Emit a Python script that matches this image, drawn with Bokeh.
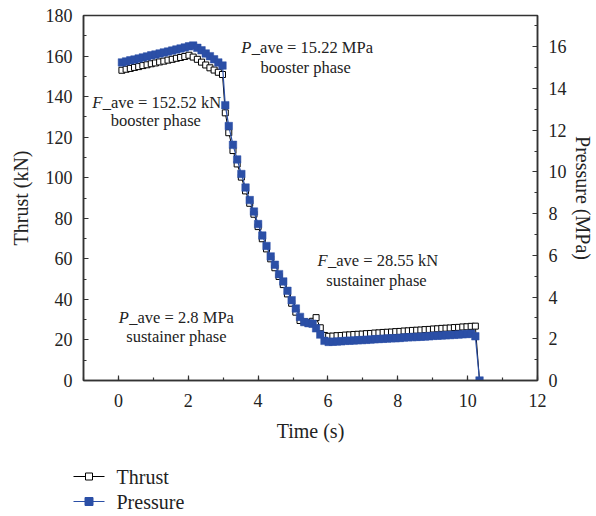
from bokeh.plotting import figure
from bokeh.layouts import column
from bokeh.models import Range1d, LinearAxis, Label, FixedTicker
from bokeh.embed import file_html
from bokeh.resources import INLINE

# ---- data ----
time_s = [0.10, 0.22, 0.34, 0.46, 0.58, 0.70, 0.82, 0.94, 1.06, 1.18, 1.30, 1.42, 1.54,
          1.66, 1.78, 1.90, 2.02, 2.14, 2.26, 2.38, 2.50, 2.62, 2.74, 2.86, 2.98,
          3.06, 3.16, 3.28, 3.40, 3.52, 3.64, 3.76, 3.88, 4.00, 4.12, 4.24, 4.36, 4.48,
          4.60, 4.72, 4.84, 4.96, 5.08, 5.20, 5.32, 5.44, 5.56, 5.66, 5.78, 5.90,
          6.02, 6.14, 6.26, 6.38, 6.50, 6.62, 6.74, 6.86, 6.98, 7.10, 7.22, 7.34,
          7.46, 7.58, 7.70, 7.82, 7.94, 8.06, 8.18, 8.30, 8.42, 8.54, 8.66, 8.78,
          8.90, 9.02, 9.14, 9.26, 9.38, 9.50, 9.62, 9.74, 9.86, 9.98, 10.10, 10.22,
          10.34]

thrust_kN = [153.0, 153.5, 153.9, 154.4, 154.8, 155.3, 155.7, 156.2, 156.6, 157.1, 157.5, 158.0, 158.4,
             158.9, 159.3, 159.8, 160.4, 159.5, 158.4, 157.0, 155.6, 154.2, 153.1, 152.0, 150.9,
             132.0, 122.2, 113.4, 106.8, 100.3, 93.5, 87.4, 82.0, 75.9, 69.9, 64.9, 60.0, 55.6,
             51.3, 47.3, 42.7, 38.1, 33.7, 29.6, 28.9, 28.7, 29.2, 31.0, 26.0, 22.2,
             21.8, 21.9, 22.1, 22.2, 22.4, 22.5, 22.7, 22.8, 22.9, 23.1, 23.2, 23.4,
             23.5, 23.7, 23.8, 23.9, 24.1, 24.2, 24.4, 24.5, 24.7, 24.8, 24.9, 25.1,
             25.2, 25.4, 25.5, 25.7, 25.8, 25.9, 26.1, 26.2, 26.4, 26.5, 26.7, 26.8,
             0.0]

pressure_MPa = [15.25, 15.30, 15.35, 15.39, 15.44, 15.49, 15.54, 15.59, 15.63, 15.68, 15.73, 15.77, 15.82,
                15.87, 15.92, 15.97, 16.02, 16.06, 15.95, 15.83, 15.68, 15.55, 15.40, 15.25, 15.10,
                13.2, 12.2, 11.3, 10.6, 9.9, 9.25, 8.65, 8.1, 7.5, 6.95, 6.45, 5.95, 5.55,
                5.1, 4.75, 4.3, 3.85, 3.45, 3.05, 2.8, 2.75, 2.72, 2.5, 2.2, 1.9,
                1.85, 1.86, 1.87, 1.88, 1.90, 1.91, 1.92, 1.93, 1.94, 1.95, 1.96, 1.98,
                1.99, 2.00, 2.01, 2.02, 2.03, 2.04, 2.06, 2.07, 2.08, 2.09, 2.10, 2.11,
                2.12, 2.14, 2.15, 2.16, 2.17, 2.18, 2.19, 2.20, 2.22, 2.23, 2.24, 2.12,
                0.0]

x_ticks = [0, 2, 4, 6, 8, 10, 12]
thrust_ticks = [0, 20, 40, 60, 80, 100, 120, 140, 160, 180]
pressure_ticks = [0, 2, 4, 6, 8, 10, 12, 14, 16]

series_names = ["Thrust", "Pressure"]
annotation_lines = [
    ("P", "_ave = 15.22 MPa", "booster phase"),
    ("F", "_ave = 152.52 kN", "booster phase"),
    ("F", "_ave = 28.55 kN", "sustainer phase"),
    ("P", "_ave = 2.8 MPa", "sustainer phase"),
]

FONT = "Liberation Serif"
AXIS_COLOR = "#333333"
TEXT_COLOR = "#222222"
BLUE = "#2b4fa6"

p = figure(width=596, height=455, output_backend="svg", toolbar_location=None,
           x_range=Range1d(-1, 12), y_range=Range1d(0, 180),
           min_border_left=83, min_border_right=59, min_border_top=15, min_border_bottom=75)
p.extra_y_ranges = {"pressure": Range1d(0, 17.5)}
p.xgrid.visible = False
p.ygrid.visible = False
p.outline_line_color = AXIS_COLOR
p.outline_line_width = 1.5
p.background_fill_color = "white"
p.border_fill_color = "white"

right_axis = LinearAxis(y_range_name="pressure")
p.add_layout(right_axis, "right")

p.xaxis.ticker = FixedTicker(ticks=x_ticks, minor_ticks=list(range(-1, 13)))
p.yaxis[0].ticker = FixedTicker(ticks=thrust_ticks, minor_ticks=list(range(0, 181, 10)))
right_axis.ticker = FixedTicker(ticks=pressure_ticks, minor_ticks=list(range(0, 18)))

p.xaxis.axis_label = "Time (s)"
p.yaxis[0].axis_label = "Thrust (kN)"
right_axis.axis_label = "Pressure (MPa)"

for ax in [p.xaxis[0], p.yaxis[0], right_axis]:
    ax.axis_line_color = AXIS_COLOR
    ax.axis_line_width = 1.5
    ax.major_tick_line_color = AXIS_COLOR
    ax.minor_tick_line_color = AXIS_COLOR
    ax.major_tick_line_width = 1.2
    ax.minor_tick_line_width = 1.2
    ax.major_tick_in = 5
    ax.major_tick_out = 0
    ax.minor_tick_in = 3
    ax.minor_tick_out = 0
    ax.major_label_text_font = FONT
    ax.major_label_text_font_size = "18px"
    ax.major_label_text_color = TEXT_COLOR
    ax.axis_label_text_font = FONT
    ax.axis_label_text_font_size = "20px"
    ax.axis_label_text_font_style = "normal"
    ax.axis_label_text_color = TEXT_COLOR

p.yaxis[0].major_label_standoff = 11
p.yaxis[0].axis_label_standoff = 11
right_axis.major_label_standoff = 11
right_axis.axis_label_standoff = 2
p.xaxis[0].major_label_standoff = 13
p.xaxis[0].axis_label_standoff = 10

# ---- series ----
p.line(time_s, thrust_kN, line_color="black", line_width=1)
p.scatter(time_s, thrust_kN, marker="square", size=6, fill_color="white",
          line_color="black", line_width=1)
p.line(time_s, pressure_MPa, line_color=BLUE, line_width=1.2, y_range_name="pressure")
p.scatter(time_s, pressure_MPa, marker="square", size=7.5, fill_color=BLUE,
          line_color=BLUE, line_width=0.5, y_range_name="pressure")

# ---- annotations ----
ann_pos = [
    (3.52, 5.36, 164.3, 154.5),
    (-0.75, 1.07, 137.2, 128.2),
    (5.70, 7.39, 59.2, 49.3),
    (0.01, 1.66, 30.9, 21.5),
]
ANN_SIZE = "16.5px"
for (sym, rest, second), (xl, xc, y1, y2) in zip(annotation_lines, ann_pos):
    p.add_layout(Label(x=xl, y=y1, text=sym, text_font=FONT, text_font_size=ANN_SIZE,
                       text_font_style="italic", text_align="left", text_baseline="middle",
                       text_color=TEXT_COLOR))
    p.add_layout(Label(x=xl, y=y1, x_offset=10.5, text=rest, text_font=FONT, text_font_size=ANN_SIZE,
                       text_align="left", text_baseline="middle", text_color=TEXT_COLOR))
    p.add_layout(Label(x=xc, y=y2, text=second, text_font=FONT, text_font_size=ANN_SIZE,
                       text_align="center", text_baseline="middle", text_color=TEXT_COLOR))

# ---- legend strip below the chart (pixel-like coordinates) ----
lg = figure(width=596, height=61, output_backend="svg", toolbar_location=None,
            x_axis_type=None, y_axis_type=None, min_border=0)
if "frame_align" in lg.properties():
    lg.frame_align = False
    lg.x_range = Range1d(0, 596)
    x_start = 73
else:
    lg.x_range = Range1d(83, 537)
    x_start = 83
lg.y_range = Range1d(0, 61)
lg.outline_line_color = None
lg.xgrid.visible = False
lg.ygrid.visible = False
lg.background_fill_color = "white"
lg.border_fill_color = "white"

row_y = [40, 15]
line_colors = ["black", BLUE]
fill_colors = ["white", BLUE]
mark_sizes = [7, 8]
for name, yy, lc, fc, ms in zip(series_names, row_y, line_colors, fill_colors, mark_sizes):
    lg.segment(x0=[x_start], y0=[yy], x1=[x_start + 31], y1=[yy], line_color=lc, line_width=1.2)
    lg.scatter([x_start + 15.5], [yy], marker="square", size=ms, fill_color=fc, line_color=lc, line_width=1)
    lg.add_layout(Label(x=x_start + 43, y=yy, text=name, text_font=FONT, text_font_size="20px",
                        text_align="left", text_baseline="middle", text_color=TEXT_COLOR))

layout = column(p, lg, spacing=0)
open("out.html", "w").write(file_html(layout, INLINE))
